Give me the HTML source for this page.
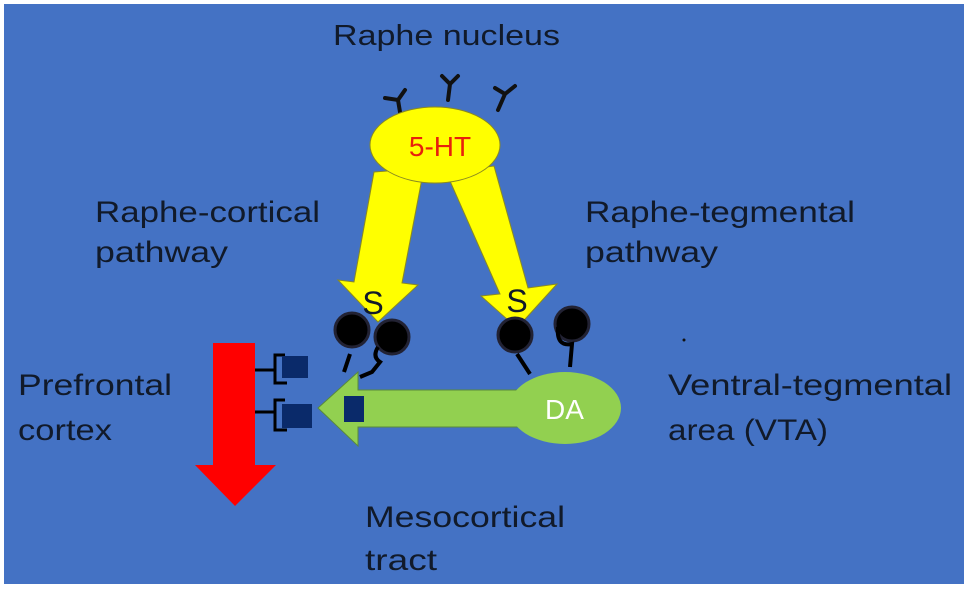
<!DOCTYPE html>
<html><head><style>
html,body{margin:0;padding:0;background:#fff;}
svg{display:block;}
text{font-family:"Liberation Sans",sans-serif;fill:#111a2a;}
</style></head><body>
<svg width="969" height="592" viewBox="0 0 969 592" xmlns="http://www.w3.org/2000/svg">
<rect x="4" y="4" width="960" height="580" fill="#4472c4"/>
<text x="333" y="45" font-size="29" textLength="227" lengthAdjust="spacingAndGlyphs">Raphe nucleus</text>
<g stroke="#111" stroke-width="4" fill="none" stroke-linecap="round">
<path d="M400 112 L398 100 M385 98 L398 100 L405 90"/>
<path d="M448 100 L450 84 M442 76 L450 84 L458 76"/>
<path d="M498 110 L505 94 M505 94 L495 88 M505 94 L515 86"/>
</g>
<polygon points="374,172 424,168 402,283 418,285 378,322 338,280 354,282" fill="#ffff00" stroke="#8a8a20" stroke-width="1"/>
<polygon points="446,172 494,166 528,288 557,284 517,328 481,296 500,294" fill="#ffff00" stroke="#8a8a20" stroke-width="1"/>
<ellipse cx="435" cy="145" rx="65" ry="38" fill="#ffff00" stroke="#8a8a20" stroke-width="1"/>
<text x="440" y="156" font-size="28" text-anchor="middle" style="fill:#e8200c">5-HT</text>
<text x="373" y="314" font-size="32" text-anchor="middle">S</text>
<text x="517" y="312" font-size="32" text-anchor="middle">S</text>
<g fill="#000" stroke="#223" stroke-width="3">
<circle cx="352" cy="330" r="17"/><circle cx="392" cy="337" r="17"/>
<circle cx="515" cy="335" r="17"/><circle cx="572" cy="324" r="17"/>
</g>
<g stroke="#000" stroke-width="4" fill="none">
<path d="M350 354 L344 372 M378 347 Q372 357 380 362 L372 372 L360 377"/>
<path d="M517 354 L530 374 M558 327 Q556 347 572 344 L570 367"/>
</g>
<polygon points="318,408 358,372 358,390 520,390 520,427 358,427 358,446" fill="#92d050" stroke="#5a8a3a" stroke-width="1"/>
<ellipse cx="565" cy="408" rx="56" ry="36" fill="#92d050"/>
<text x="545" y="419" font-size="28" style="fill:#fff">DA</text>
<rect x="344" y="396" width="20" height="26" fill="#0a2a6a"/>
<polygon points="213,343 255,343 255,465 276,465 235,506 195,465 213,465" fill="#ff0000"/>
<g stroke="#000" stroke-width="3" fill="none">
<path d="M255 370 L275 370 M285 355 L275 355 L275 383 L287 383"/>
<path d="M255 412 L275 412 M285 400 L275 400 L275 430 L287 430"/>
</g>
<rect x="282" y="356" width="26" height="22" fill="#0a2a6a"/>
<rect x="282" y="404" width="30" height="24" fill="#0a2a6a"/>
<circle cx="684" cy="340" r="1.5" fill="#111"/>
<g font-size="30">
<text x="95" y="222" textLength="225" lengthAdjust="spacingAndGlyphs">Raphe-cortical</text>
<text x="95" y="262" textLength="133" lengthAdjust="spacingAndGlyphs">pathway</text>
<text x="585" y="222" textLength="270" lengthAdjust="spacingAndGlyphs">Raphe-tegmental</text>
<text x="585" y="262" textLength="133" lengthAdjust="spacingAndGlyphs">pathway</text>
<text x="18" y="395" textLength="154" lengthAdjust="spacingAndGlyphs">Prefrontal</text>
<text x="18" y="440" textLength="94" lengthAdjust="spacingAndGlyphs">cortex</text>
<text x="668" y="395" textLength="284" lengthAdjust="spacingAndGlyphs">Ventral-tegmental</text>
<text x="668" y="440" textLength="160" lengthAdjust="spacingAndGlyphs">area (VTA)</text>
<text x="365" y="527" textLength="200" lengthAdjust="spacingAndGlyphs">Mesocortical</text>
<text x="365" y="570" textLength="72" lengthAdjust="spacingAndGlyphs">tract</text>
</g>
</svg>
</body></html>
